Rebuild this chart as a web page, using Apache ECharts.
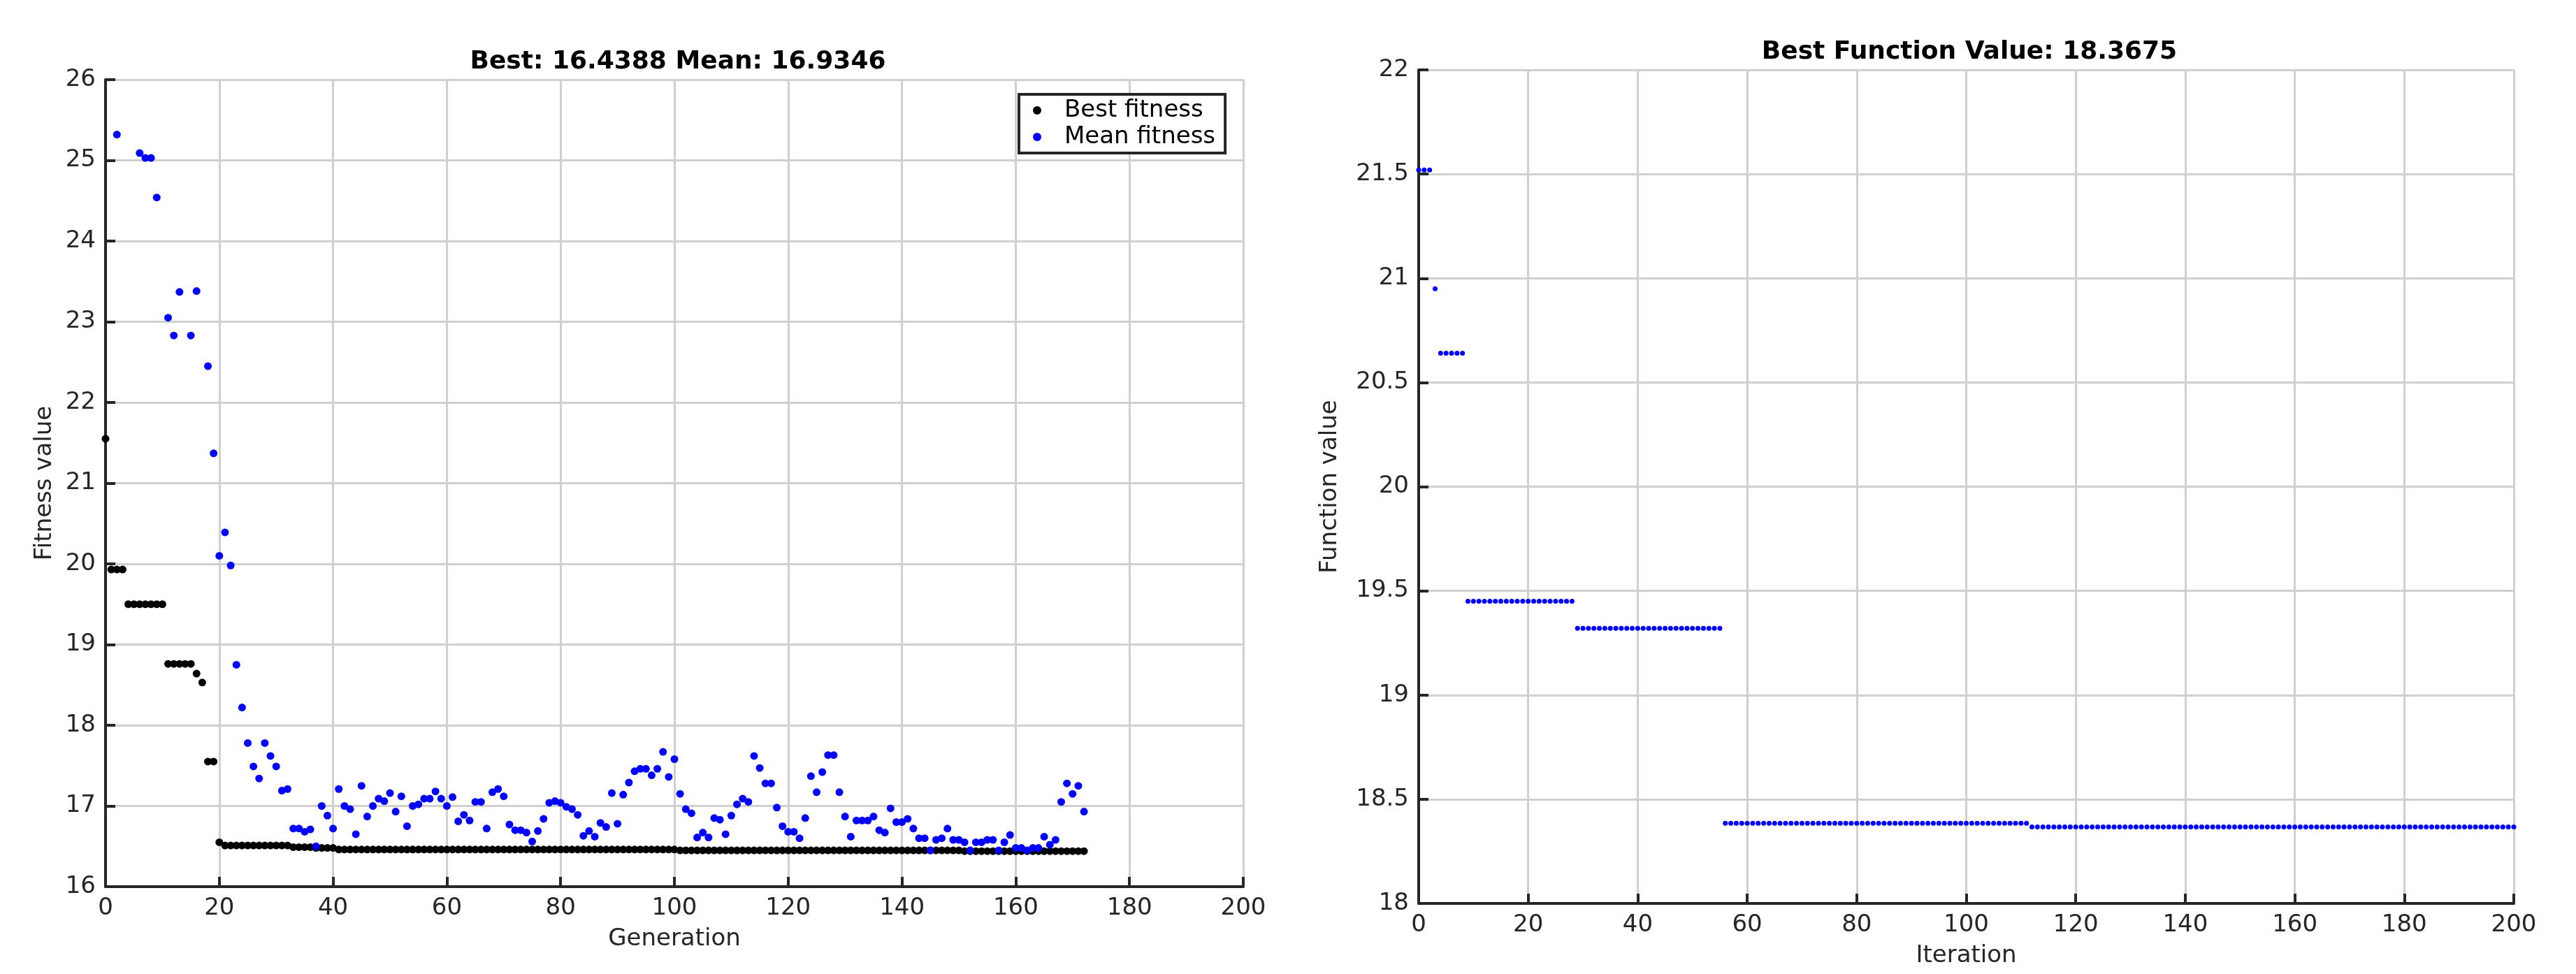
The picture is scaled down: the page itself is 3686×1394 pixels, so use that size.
<!DOCTYPE html>
<html>
<head>
<meta charset="utf-8">
<script src="https://cdn.jsdelivr.net/npm/echarts@6/dist/echarts.min.js"></script>
<style>html,body{margin:0;background:#fff}#chart{width:3686px;height:1394px}</style>
</head>
<body>
<div id="chart"></div>
<script>
// left plot: GA generations
const bestRuns = [ // [fromGen, toGen, value]
  [0, 0, 21.55], [1, 3, 19.93], [4, 10, 19.5], [11, 15, 18.76], [16, 16, 18.64],
  [17, 17, 18.53], [18, 19, 17.55], [20, 20, 16.55], [21, 32, 16.51], [33, 36, 16.49],
  [37, 40, 16.48], [41, 100, 16.46], [101, 150, 16.45], [151, 172, 16.44]
];
const meanFitness = [
  null, null, 25.32, null, null, null, 25.09, 25.03, 25.03, 24.54,
  null, 23.05, 22.83, 23.37, null, 22.83, 23.38, null, 22.45, 21.37,
  20.1, 20.39, 19.98, 18.75, 18.22, 17.78, 17.49, 17.34, 17.78, 17.62,
  17.49, 17.19, 17.21, 16.72, 16.72, 16.68, 16.71, 16.5, 17.0, 16.88,
  16.72, 17.21, 17.0, 16.96, 16.65, 17.25, 16.87, 17.0, 17.09, 17.06,
  17.16, 16.93, 17.12, 16.75, 17.0, 17.02, 17.09, 17.09, 17.18, 17.09,
  17.0, 17.11, 16.81, 16.89, 16.82, 17.05, 17.05, 16.72, 17.17, 17.21,
  17.12, 16.77, 16.7, 16.7, 16.67, 16.56, 16.69, 16.84, 17.04, 17.06,
  17.04, 16.99, 16.96, 16.89, 16.63, 16.69, 16.62, 16.79, 16.74, 17.16,
  16.78, 17.14, 17.29, 17.43, 17.46, 17.46, 17.38, 17.46, 17.67, 17.36,
  17.58, 17.15, 16.96, 16.91, 16.61, 16.67, 16.61, 16.85, 16.83, 16.65,
  16.88, 17.02, 17.09, 17.05, 17.62, 17.47, 17.28, 17.28, 16.98, 16.75,
  16.68, 16.68, 16.6, 16.85, 17.37, 17.17, 17.42, 17.63, 17.63, 17.17,
  16.87, 16.62, 16.82, 16.82, 16.82, 16.87, 16.7, 16.67, 16.97, 16.8,
  16.8, 16.84, 16.72, 16.6, 16.6, 16.45, 16.58, 16.6, 16.72, 16.58,
  16.58, 16.55, 16.45, 16.55, 16.55, 16.58, 16.58, 16.45, 16.55, 16.64,
  16.48, 16.48, 16.45, 16.48, 16.48, 16.62, 16.52, 16.58, 17.05, 17.28,
  17.15, 17.25, 16.93
];
// right plot: iterations
const funcRuns = [
  [0, 2, 21.52], [3, 3, 20.95], [4, 8, 20.64], [9, 28, 19.45],
  [29, 55, 19.32], [56, 111, 18.385], [112, 200, 18.3675]
];

const expand = runs => runs.flatMap(([a, b, v]) => {
  const out = [];
  for (let i = a; i <= b; i++) out.push([i, v]);
  return out;
});

const font = 'DejaVu Sans';
const txt = '#262626';
const axisCommon = (min, max, interval, name, gap) => ({
  type: 'value', min, max, interval, name, nameLocation: 'middle', nameGap: gap,
  nameTextStyle: { fontFamily: font, fontSize: 34, color: txt },
  axisLine: { show: true, lineStyle: { color: txt, width: 4 } },
  axisTick: { show: true, inside: true, length: 14, lineStyle: { color: txt, width: 4 } },
  axisLabel: { fontFamily: font, fontSize: 34, color: txt, margin: 14 },
  splitLine: { show: true, lineStyle: { color: '#d0d0d0', width: 3 } }
});

const chart = echarts.init(document.getElementById('chart'));
chart.setOption({
  animation: false,
  backgroundColor: '#fff',
  title: [
    { text: 'Best: 16.4388 Mean: 16.9346', left: 965, top: 66, textAlign: 'center',
      textStyle: { fontFamily: font, fontSize: 36, fontWeight: 'bold', color: '#000' } },
    { text: 'Best Function Value: 18.3675', left: 2813, top: 52, textAlign: 'center',
      textStyle: { fontFamily: font, fontSize: 36, fontWeight: 'bold', color: '#000' } }
  ],
  legend: {
    left: 1458, top: 135, width: 300, orient: 'vertical', itemGap: 4,
    itemWidth: 40, itemHeight: 12, padding: [6, 14, 6, 20],
    borderColor: '#262626', borderWidth: 4, backgroundColor: '#fff',
    textStyle: { fontFamily: font, fontSize: 34, color: '#000', padding: [0, 0, 0, 14] },
    data: [{ name: 'Best fitness', icon: 'circle' }, { name: 'Mean fitness', icon: 'circle' }]
  },
  grid: [
    { left: 151, top: 114, width: 1628, height: 1155 },
    { left: 2030, top: 100, width: 1567, height: 1193 }
  ],
  xAxis: [
    Object.assign(axisCommon(0, 200, 20, 'Generation', 58), { gridIndex: 0 }),
    Object.assign(axisCommon(0, 200, 20, 'Iteration', 58), { gridIndex: 1 })
  ],
  yAxis: [
    Object.assign(axisCommon(16, 26, 1, 'Fitness value', 70), { gridIndex: 0 }),
    Object.assign(axisCommon(18, 22, 0.5, 'Function value', 110), { gridIndex: 1 })
  ],
  series: [
    { name: 'Best fitness', type: 'scatter', xAxisIndex: 0, yAxisIndex: 0,
      symbolSize: 11, itemStyle: { color: '#000', opacity: 1 }, data: expand(bestRuns) },
    { name: 'Mean fitness', type: 'scatter', xAxisIndex: 0, yAxisIndex: 0,
      symbolSize: 11, itemStyle: { color: '#0000ff', opacity: 1 },
      data: meanFitness.map((v, i) => [i, v]).filter(d => d[1] !== null) },
    { name: 'Function', type: 'scatter', xAxisIndex: 1, yAxisIndex: 1,
      symbolSize: 7, itemStyle: { color: '#0000ff', opacity: 1 }, data: expand(funcRuns) }
  ]
});
</script>
</body>
</html>
